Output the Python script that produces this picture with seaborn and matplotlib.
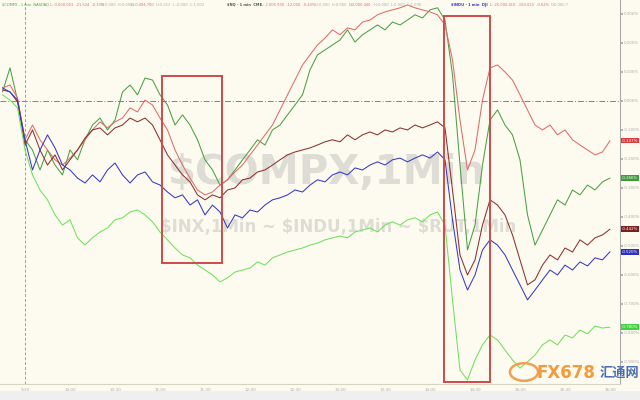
import matplotlib
matplotlib.use("Agg")
import matplotlib.pyplot as plt
import pandas as pd
import seaborn as sns
from matplotlib.patches import Rectangle, Circle

sns.set_theme(style="white")
plt.rcParams['font.family'] = ['DejaVu Sans', 'Noto Sans CJK SC']

# minutes relative to the 9:30 open
minutes = list(range(-15, 391, 5))

compx = [0.031, 0.114, 0.003, -0.134, -0.169, -0.238, -0.169, -0.221, -0.255, -0.169,
         -0.203, -0.134, -0.083, -0.059, -0.100, -0.066, 0.031, 0.055, 0.021, 0.079,
         0.072, 0.021, -0.014, -0.083, -0.048, -0.083, -0.134, -0.203, -0.238, -0.290,
         -0.272, -0.238, -0.203, -0.169, -0.134, -0.152, -0.100, -0.083, -0.048, -0.014,
         0.021, 0.107, 0.159, 0.176, 0.193, 0.210, 0.245, 0.203, 0.228, 0.245,
         0.262, 0.245, 0.272, 0.262, 0.279, 0.297, 0.286, 0.314, 0.321, 0.279,
         0.090, -0.221, -0.514, -0.428, -0.221, -0.066, -0.031, -0.083, -0.117, -0.203,
         -0.393, -0.497, -0.445, -0.393, -0.341, -0.359, -0.307, -0.324, -0.290, -0.307,
         -0.279, -0.266]

nq = [0.045, 0.055, 0.010, -0.134, -0.083, -0.134, -0.169, -0.203, -0.221, -0.197,
      -0.169, -0.134, -0.100, -0.072, -0.093, -0.072, -0.059, -0.024, -0.038, 0.003,
      -0.014, -0.059, -0.100, -0.169, -0.221, -0.266, -0.307, -0.324, -0.314, -0.290,
      -0.272, -0.245, -0.221, -0.186, -0.152, -0.117, -0.083, -0.031, 0.021, 0.072,
      0.124, 0.159, 0.193, 0.217, 0.245, 0.228, 0.252, 0.245, 0.272, 0.279,
      0.297, 0.307, 0.314, 0.321, 0.331, 0.321, 0.314, 0.307, 0.297, 0.262,
      0.141, -0.066, -0.238, -0.169, 0.003, 0.114, 0.124, 0.100, 0.072, 0.021,
      -0.031, -0.083, -0.100, -0.083, -0.117, -0.100, -0.134, -0.152, -0.169, -0.186,
      -0.176, -0.137]

inx = [0.038, 0.031, -0.003, -0.152, -0.100, -0.169, -0.221, -0.186, -0.238, -0.203,
       -0.169, -0.128, -0.100, -0.093, -0.117, -0.093, -0.083, -0.059, -0.072, -0.059,
       -0.083, -0.134, -0.186, -0.221, -0.255, -0.279, -0.324, -0.341, -0.324, -0.334,
       -0.307, -0.300, -0.272, -0.266, -0.245, -0.238, -0.221, -0.203, -0.186, -0.176,
       -0.169, -0.162, -0.152, -0.141, -0.134, -0.141, -0.117, -0.134, -0.117, -0.107,
       -0.117, -0.100, -0.107, -0.093, -0.100, -0.083, -0.093, -0.083, -0.072, -0.093,
       -0.307, -0.531, -0.600, -0.548, -0.428, -0.341, -0.359, -0.393, -0.462, -0.548,
       -0.634, -0.617, -0.566, -0.531, -0.548, -0.507, -0.521, -0.479, -0.497, -0.472,
       -0.462, -0.442]

indu = [0.045, 0.031, 0.003, -0.134, -0.238, -0.169, -0.117, -0.162, -0.221, -0.238,
        -0.266, -0.283, -0.255, -0.279, -0.238, -0.214, -0.255, -0.283, -0.255, -0.245,
        -0.279, -0.290, -0.314, -0.334, -0.324, -0.359, -0.341, -0.393, -0.359, -0.383,
        -0.438, -0.393, -0.403, -0.376, -0.383, -0.359, -0.341, -0.334, -0.324, -0.307,
        -0.314, -0.290, -0.272, -0.279, -0.255, -0.245, -0.255, -0.231, -0.238, -0.221,
        -0.210, -0.221, -0.203, -0.197, -0.210, -0.197, -0.186, -0.197, -0.176, -0.203,
        -0.410, -0.583, -0.652, -0.600, -0.514, -0.479, -0.497, -0.531, -0.583, -0.634,
        -0.686, -0.652, -0.617, -0.583, -0.600, -0.566, -0.583, -0.555, -0.569, -0.541,
        -0.548, -0.520]

rut = [0.021, 0.003, -0.024, -0.169, -0.255, -0.307, -0.341, -0.393, -0.428, -0.410,
       -0.472, -0.497, -0.472, -0.452, -0.438, -0.410, -0.403, -0.383, -0.376, -0.393,
       -0.417, -0.452, -0.479, -0.507, -0.531, -0.541, -0.566, -0.583, -0.600, -0.624,
       -0.610, -0.590, -0.583, -0.576, -0.555, -0.566, -0.541, -0.531, -0.521, -0.514,
       -0.507, -0.497, -0.490, -0.479, -0.472, -0.466, -0.472, -0.452, -0.445, -0.438,
       -0.452, -0.428, -0.417, -0.428, -0.410, -0.403, -0.417, -0.393, -0.383, -0.428,
       -0.686, -0.928, -0.962, -0.893, -0.841, -0.807, -0.824, -0.859, -0.893, -0.921,
       -0.900, -0.876, -0.841, -0.824, -0.841, -0.807, -0.817, -0.790, -0.803, -0.776,
       -0.783, -0.780]

series_names = ["$COMPX", "$NQ", "$INX", "$INDU", "$RUT"]
series_values = [compx, nq, inx, indu, rut]
line_colors = ["#4c9f45", "#e06a6a", "#8e2f2f", "#3838c8", "#6fe060"]
tag_colors = ["#3f9a3a", "#d83c3c", "#7a1f1f", "#2e2ec4", "#45cf45"]
end_labels = ["-0.266%", "-0.137%", "-0.442%", "-0.520%", "-0.780%"]

y_ticks = [0.3, 0.2, 0.1, 0.0, -0.1, -0.2, -0.3, -0.4, -0.5, -0.6, -0.7, -0.8, -0.9]
x_ticks = [0, 30, 60, 90, 120, 150, 180, 210, 240, 270, 300, 330, 360, 390]
x_tick_labels = ["9:30", "10:00", "10:30", "11:00", "11:30", "12:00", "12:30",
                 "13:00", "13:30", "14:00", "14:30", "15:00", "15:30", "16:00"]

rows = []
for name, vals in zip(series_names, series_values):
    for m, v in zip(minutes, vals):
        rows.append({"minute": m, "pct": v, "series": name})
df = pd.DataFrame(rows)

bg = "#fdfbef"
fig = plt.figure(figsize=(6.4, 4.0), dpi=100, facecolor=bg)
ax = fig.add_axes([0.0, 16 / 400, 620 / 640, 384 / 400])
ax.set_facecolor(bg)

# watermark
ax.text(0.528, 0.55, "$COMPX,1Min", transform=ax.transAxes, ha="center", va="center",
        fontsize=29, fontweight="bold", color="#d6d6cf", alpha=0.8, zorder=0)
ax.text(0.545, 0.41, "$INX,1Min ~ $INDU,1Min ~ $RUT,1Min", transform=ax.transAxes,
        ha="center", va="center", fontsize=12, fontweight="bold", color="#d6d6cf",
        alpha=0.8, zorder=0)

ax.axhline(0, color="#b86a6a", lw=0.7, ls=(0, (6, 2, 1, 2)), zorder=1)
ax.axvline(0, color="#b89090", lw=0.7, ls=(0, (3, 2)), zorder=1)

sns.lineplot(data=df, x="minute", y="pct", hue="series", hue_order=series_names,
             palette=dict(zip(series_names, line_colors)), lw=0.75, legend=False,
             ax=ax, zorder=3)

# highlight boxes
ax.add_patch(Rectangle((91.3, -0.559), 40.0, 0.645, fill=False, ec="#cf4a4a", lw=1.4, zorder=4))
ax.add_patch(Rectangle((279.3, -0.969), 30.7, 1.262, fill=False, ec="#cf4a4a", lw=1.4,
                       zorder=4, clip_on=False))

ax.set_xlim(-16.67, 396.67)
ax.set_ylim(-0.976, 0.348)
ax.yaxis.tick_right()
ax.set_yticks(y_ticks)
ax.set_yticklabels([f"{v:.3f}%" for v in y_ticks])
ax.set_xticks(x_ticks)
ax.set_xticklabels(x_tick_labels)
ax.tick_params(axis="y", labelsize=2.8, labelcolor="#aaaaaa", length=2, color="#aaaaaa", pad=1)
ax.tick_params(axis="x", labelsize=3, labelcolor="#aaaaaa", length=2, color="#aaaaaa", pad=1)
ax.set_xlabel("")
ax.set_ylabel("")
for s in ["top", "left"]:
    ax.spines[s].set_visible(False)
ax.spines["right"].set_color("#aaaaaa")
ax.spines["right"].set_linewidth(0.8)
ax.spines["bottom"].set_color("#d8d4c4")
ax.spines["bottom"].set_linewidth(0.8)

# end tags
for vals, c, lab in zip(series_values, tag_colors, end_labels):
    ax.annotate(lab, xy=(1.0, vals[-1]), xycoords=("axes fraction", "data"),
                xytext=(1.5, 0), textcoords="offset points", ha="left", va="center",
                fontsize=2.8, color="white", annotation_clip=False,
                bbox=dict(boxstyle="square,pad=0.2", fc=c, ec="none"))

# header legend text
hy = 0.988
fig.text(0.003, hy, "$COMPX - 1 min  NASDAQ", fontsize=2.6, color="#4c9f45", va="center")
fig.text(0.078, hy, "L:-0.000.003  -21.524  -0.33%", fontsize=2.6, color="#e06a6a", va="center")
fig.text(0.158, hy, "O:0.000  H:0.000", fontsize=2.6, color="#aaaaaa", va="center")
fig.text(0.205, hy, "O:-0.494.700", fontsize=2.6, color="#e06a6a", va="center")
fig.text(0.243, hy, "H:0.213  L:-0.000  C:1.003", fontsize=2.6, color="#aaaaaa", va="center")
fig.text(0.355, hy, "$NQ - 1 min  CME", fontsize=2.6, color="#555555", va="center", fontweight="bold")
fig.text(0.408, hy, "L:-2.005.930  -12.000  -0.43%", fontsize=2.6, color="#e06a6a", va="center")
fig.text(0.492, hy, "O:0.000  H:0.000", fontsize=2.6, color="#aaaaaa", va="center")
fig.text(0.545, hy, "O:2.000.440", fontsize=2.6, color="#e06a6a", va="center")
fig.text(0.585, hy, "H:0.000  L:0.000  C:1.000", fontsize=2.6, color="#aaaaaa", va="center")
fig.text(0.705, hy, "$INDU - 1 min  DJI", fontsize=2.6, color="#3838c8", va="center", fontweight="bold")
fig.text(0.765, hy, "L:-25.000.410  -150.020  -0.62%", fontsize=2.6, color="#e06a6a", va="center")
fig.text(0.86, hy, "O:0.000.7", fontsize=2.6, color="#aaaaaa", va="center")

# bottom scroll strip
fig.patches.append(Rectangle((0, 0), 1, 9 / 400, transform=fig.transFigure,
                             fc="#efefef", ec="none"))

# logo
fig.patches.append(Circle((524 / 640, 1 - 372 / 400), 0.022, transform=fig.transFigure,
                          fc="none", ec="#f0a050", lw=1.8))
fig.text(537 / 640, 1 - 373 / 400, "FX678", fontsize=12, fontweight="bold",
         color="#f39a3a", va="center", ha="left")
fig.text(600 / 640, 1 - 373 / 400, "汇通网", fontsize=9.5, fontweight="bold",
         color="#4a6fb0", va="center", ha="left", family=["Noto Sans CJK SC"])

fig.savefig("out.png", dpi=100, facecolor=bg)
